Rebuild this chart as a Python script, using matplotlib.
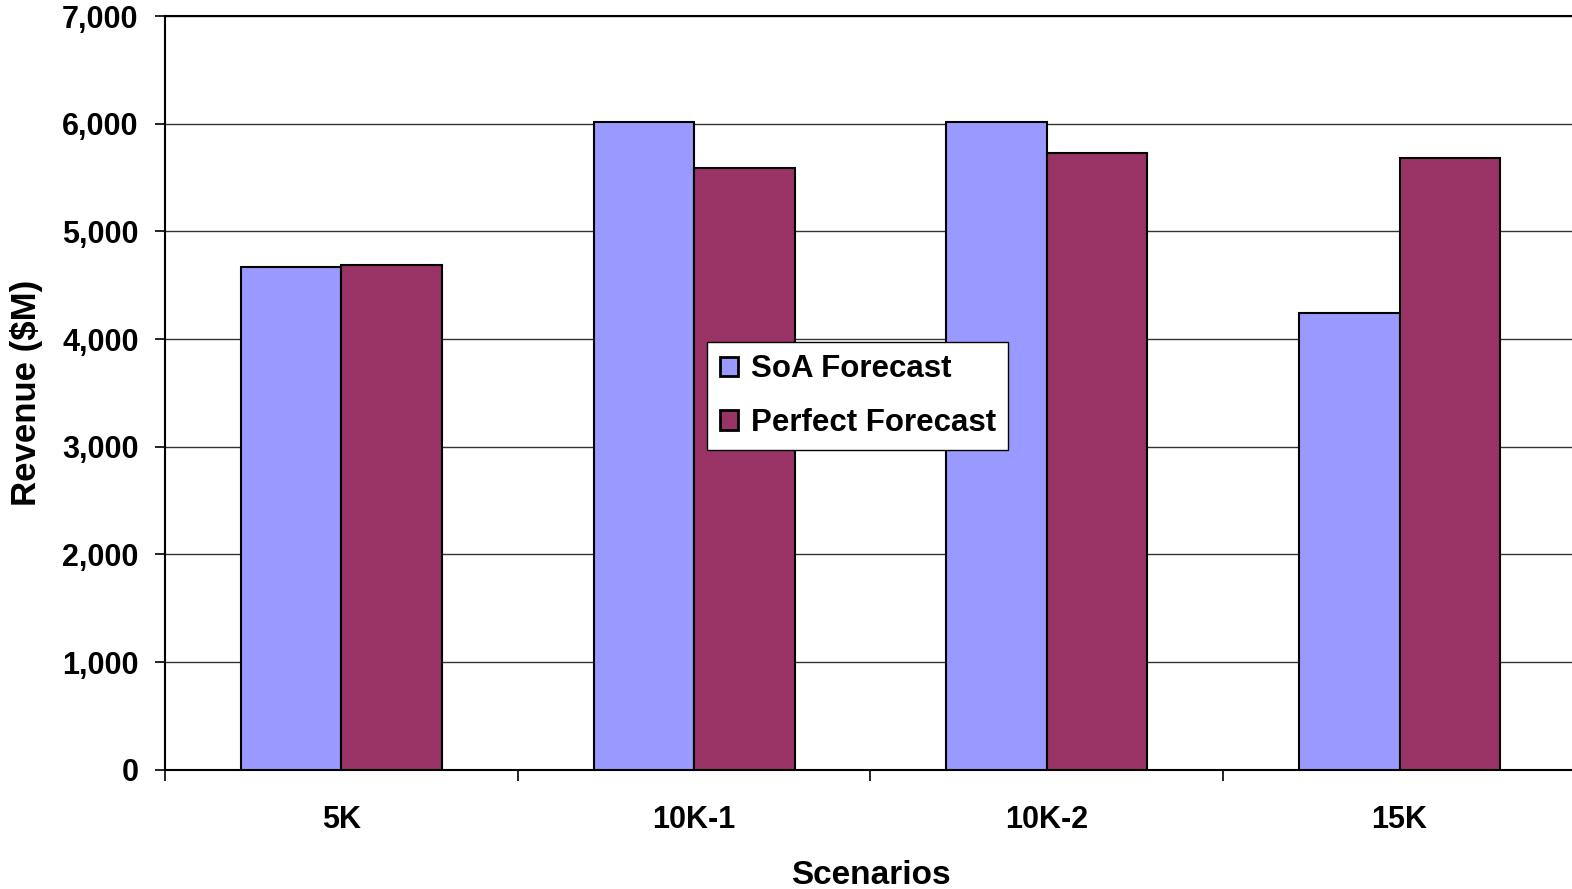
import numpy as np
import matplotlib.pyplot as plt
from matplotlib.ticker import FuncFormatter, FixedLocator

plt.rcParams['font.family'] = ['Liberation Sans', 'DejaVu Sans']
plt.rcParams['font.weight'] = 'bold'

scenarios = ['5K', '10K-1', '10K-2', '15K']
soa = [4670, 6020, 6020, 4240]
perfect = [4690, 5590, 5730, 5680]

fig = plt.figure(figsize=(15.72, 8.89), dpi=100)
ax = fig.add_axes([0.105, 0.134, 0.8975, 0.848])

x = np.arange(len(scenarios))
w = 0.285
ax.bar(x - w/2, soa, w, color='#9999FF', edgecolor='black', linewidth=1.5,
       label='SoA Forecast', zorder=3)
ax.bar(x + w/2, perfect, w, color='#993366', edgecolor='black', linewidth=1.5,
       label='Perfect Forecast', zorder=3)

ax.set_xlim(-0.5, len(scenarios) - 0.5)
ax.set_ylim(0, 7000)
ax.set_yticks(np.arange(0, 7001, 1000))
ax.yaxis.set_major_formatter(FuncFormatter(lambda v, p: f'{int(v):,}'))
ax.yaxis.grid(True, color='#333333', linewidth=1, zorder=0)

ax.set_xticks(x)
ax.set_xticklabels(scenarios)
ax.xaxis.set_minor_locator(FixedLocator(np.arange(-0.5, len(scenarios), 1.0)))
ax.tick_params(axis='x', which='major', length=0, pad=25, labelsize=22)
ax.tick_params(axis='x', which='minor', length=8, width=1.2, direction='out')
ax.tick_params(axis='y', length=7, width=1.2, pad=12, labelsize=22)

for s in ['left', 'bottom', 'top']:
    ax.spines[s].set_linewidth(1.5)
ax.spines['right'].set_visible(False)

ax.set_xlabel('Scenarios', fontsize=24, fontweight='bold', labelpad=18)
ax.set_ylabel('Revenue ($M)', fontsize=25, fontweight='bold', labelpad=14)

leg = fig.legend(loc='upper left', bbox_to_anchor=(0.4498, 0.6153),
                 fontsize=22.5, frameon=True, fancybox=False, framealpha=1,
                 handlelength=0.6, handleheight=0.6, handletextpad=0.4,
                 borderpad=0.4, labelspacing=0.75, borderaxespad=0)
leg.get_frame().set_edgecolor('black')
leg.get_frame().set_linewidth(1)
for t in leg.get_texts():
    t.set_fontweight('bold')
for h in leg.legend_handles:
    h.set_linewidth(2)

fig.savefig('out.png', dpi=100)
